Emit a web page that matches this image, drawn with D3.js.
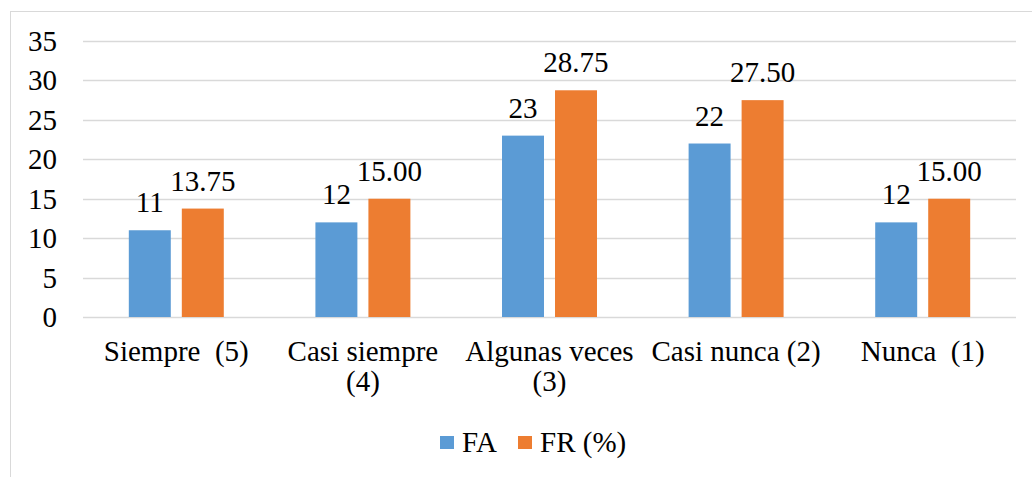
<!DOCTYPE html>
<html><head><meta charset="utf-8">
<script src="https://cdn.jsdelivr.net/npm/d3@7"></script>
<style>body{margin:0;background:#fff}svg{display:block}svg text{font-family:'Liberation Serif',serif !important}</style>
</head><body><svg id="c" width="1032" height="477"></svg>
<script>
const categories = [["Siempre  (5)"], ["Casi siempre", "(4)"], ["Algunas veces", "(3)"], ["Casi nunca (2)"], ["Nunca  (1)"]];
const seriesNames = ["FA", "FR (%)"];
const faValues = [11, 12, 23, 22, 12];
const frValues = [13.75, 15.00, 28.75, 27.50, 15.00];
const frLabels = ["13.75", "15.00", "28.75", "27.50", "15.00"];
const yTicks = [0, 5, 10, 15, 20, 25, 30, 35];
const colors = ["#5B9BD5", "#ED7D31"];

(function () {
const FONT = "'Liberation Serif', serif";
const FS = 29;
const svg = d3.select("#c").style("white-space", "pre");
svg.append("rect").attr("x", 10.5).attr("y", 11.5).attr("width", 1100).attr("height", 600)
  .attr("fill", "none").attr("stroke", "#D9D9D9");

const pLeft = 83, pRight = 1016, pTop = 41, pBottom = 317;
const y = d3.scaleLinear().domain([0, 35]).range([pBottom, pTop]);
const x0 = d3.scaleBand().domain(d3.range(categories.length)).range([pLeft, pRight]);
const bw = x0.bandwidth();
const x1 = d3.scaleBand().domain(seriesNames).range([bw * 0.2455, bw * 0.7545]).paddingInner(0.208);

function txt(sel) {
  return sel.style("font-family", FONT, "important").style("font-size", FS + "px").attr("fill", "#000");
}

const g = svg.append("g");
yTicks.forEach(t => {
  g.append("line").attr("x1", pLeft).attr("x2", pRight).attr("y1", Math.round(y(t)) + 0.5).attr("y2", Math.round(y(t)) + 0.5)
    .attr("stroke", "#D9D9D9").attr("stroke-width", 1.5);
  txt(g.append("text").attr("x", 57).attr("y", y(t) + 10).attr("text-anchor", "end")).text(t);
});

const data = categories.map((c, i) => ({i, vals: [{s: seriesNames[0], v: faValues[i], l: String(faValues[i])}, {s: seriesNames[1], v: frValues[i], l: frLabels[i]}]}));
const grp = svg.selectAll("g.cat").data(data).join("g").attr("class", "cat")
  .attr("transform", d => `translate(${x0(d.i)},0)`);
grp.selectAll("rect").data(d => d.vals).join("rect")
  .attr("x", d => x1(d.s)).attr("width", x1.bandwidth())
  .attr("y", d => y(d.v)).attr("height", d => y(0) - y(d.v))
  .attr("fill", (d, j) => colors[j]);
txt(grp.selectAll("text.lbl").data(d => d.vals).join("text").attr("class", "lbl")
  .attr("x", d => x1(d.s) + x1.bandwidth() / 2).attr("y", d => y(d.v) - 18)
  .attr("text-anchor", "middle")).text(d => d.l);

categories.forEach((lines, i) => {
  const t = txt(svg.append("text").attr("text-anchor", "middle").attr("xml:space", "preserve"));
  lines.forEach((ln, k) => {
    t.append("tspan").attr("x", x0(i) + bw / 2).attr("y", 361 + k * 30).text(ln);
  });
});

const legendItems = [{n: seriesNames[0], x: 440}, {n: seriesNames[1], x: 518}];
legendItems.forEach((it, j) => {
  svg.append("rect").attr("x", it.x).attr("y", 436).attr("width", 14).attr("height", 13).attr("fill", colors[j]);
  txt(svg.append("text").attr("x", it.x + 22).attr("y", 452)).text(it.n);
});
})();
</script></body></html>
